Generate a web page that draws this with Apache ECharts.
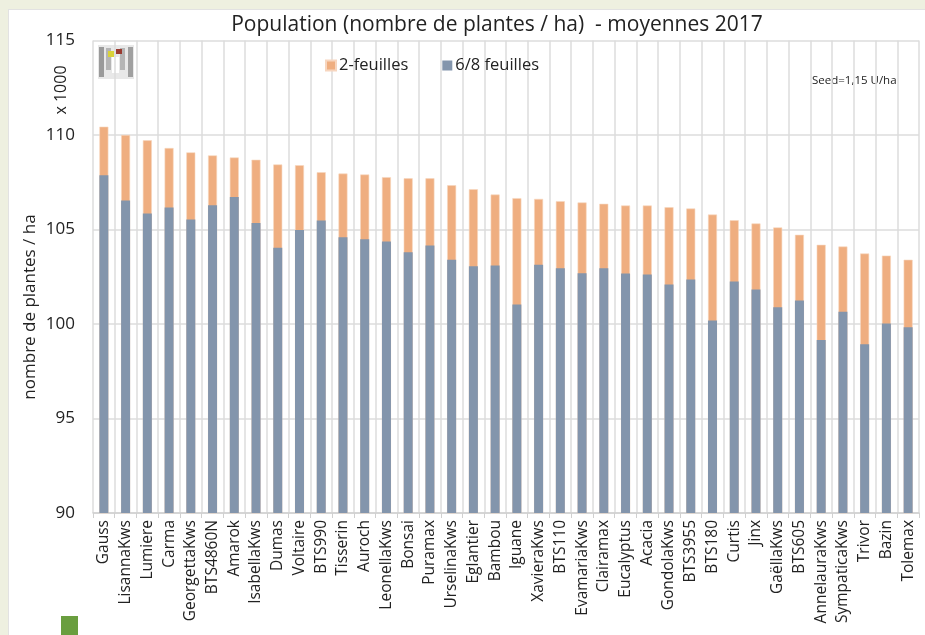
<!DOCTYPE html>
<html>
<head>
<meta charset="utf-8">
<script src="https://cdn.jsdelivr.net/npm/echarts@6/dist/echarts.min.js"></script>
<style>
html,body{margin:0;padding:0;background:#eef0e0;}
#frame{position:absolute;left:8px;top:9px;width:917px;height:626px;background:#fff;border-left:1px solid #e2e2e2;border-top:1px solid #e2e2e2;}
#c{position:absolute;left:0;top:0;width:925px;height:635px;}
</style>
</head>
<body>
<div id="frame"></div>
<div id="c"></div>
<script>
const categories = ["Gauss","LisannaKws","Lumiere","Carma","GeorgettaKws","BTS4860N","Amarok","IsabellaKws","Dumas","Voltaire","BTS990","Tisserin","Auroch","LeonellaKws","Bonsai","Puramax","UrselinaKws","Eglantier","Bambou","Iguane","XavieraKws","BTS110","EvamariaKws","Clairamax","Eucalyptus","Acacia","GondolaKws","BTS3955","BTS180","Curtis","Jinx","GaëllaKws","BTS605","AnnelauraKws","SympaticaKws","Trivor","Bazin","Tolemax"];
const feuilles2 = [110.44,110.0,109.72,109.31,109.08,108.92,108.81,108.69,108.44,108.40,108.03,107.96,107.91,107.77,107.71,107.71,107.34,107.13,106.85,106.66,106.62,106.50,106.43,106.36,106.27,106.27,106.18,106.11,105.79,105.49,105.32,105.11,104.72,104.19,104.10,103.73,103.62,103.40];
const feuilles68 = [107.87,106.53,105.85,106.17,105.53,106.28,106.72,105.35,104.04,104.98,105.48,104.59,104.48,104.36,103.79,104.15,103.40,103.05,103.10,101.03,103.13,102.95,102.69,102.95,102.67,102.62,102.09,102.35,100.19,102.25,101.83,100.89,101.24,99.16,100.65,98.93,100.03,99.83];
const yTicks = [90,95,100,105,110,115];

const FONT = "'Open Sans', 'Noto Sans', sans-serif";
const chart = echarts.init(document.getElementById('c'), null, {renderer:'canvas'});
chart.setOption({
  backgroundColor: 'transparent',
  animation: false,
  title: {
    text: 'Population (nombre de plantes / ha)  - moyennes 2017',
    left: 492, top: 10, textAlign: 'center',
    textStyle: {fontFamily: FONT, fontWeight: 'normal', fontSize: 21, color: '#222'}
  },
  legend: {
    data: ['2-feuilles','6/8 feuilles'],
    left: 320, top: 52,
    itemWidth: 10, itemHeight: 10, itemGap: 34,
    icon: 'rect',
    textStyle: {fontFamily: FONT, fontSize: 16.5, color: '#222', padding:[0,0,0,-2]}
  },
  grid: {left: 93, right: 6, top: 40.5, bottom: 122},
  xAxis: {
    type: 'category',
    data: categories,
    axisLine: {lineStyle: {color: '#d0d0d0', width: 1.5}},
    axisTick: {show: true, length: 5, alignWithLabel: false, lineStyle: {color: '#d0d0d0'}},
    splitLine: {show: true, lineStyle: {color: '#dcdcdc', width: 1.5}},
    axisLabel: {rotate: 90, interval: 0, margin: 7, fontFamily: FONT, fontSize: 15.5, color: '#222'}
  },
  yAxis: {
    type: 'value',
    min: yTicks[0], max: yTicks[yTicks.length-1], interval: 5,
    axisLine: {show: false},
    axisTick: {show: false},
    splitLine: {lineStyle: {color: '#dcdcdc', width: 1.5}},
    axisLabel: {margin: 18, fontFamily: FONT, fontSize: 17, color: '#222',
      formatter: v => yTicks.includes(v) ? String(v) : ''}
  },
  series: [
    {name: '2-feuilles', type: 'bar', data: feuilles2, barWidth: 9, barGap: '-100%',
     itemStyle: {color: '#efae80', borderColor: '#f7d6bf', borderWidth: 0.6}},
    {name: '6/8 feuilles', type: 'bar', data: feuilles68, barWidth: 9,
     itemStyle: {color: '#8395ac'}}
  ],
  graphic: [
    {type: 'text', left: 812, top: 75, style: {text: 'Seed=1,15 U/ha', font: "11.5px " + FONT, fill: '#222'}},
    {type: 'text', x: 61, y: 90, rotation: Math.PI/2, style: {text: 'x 1000', font: "16px " + FONT, fill: '#222', textAlign: 'center', textVerticalAlign: 'middle'}},
    {type: 'text', x: 30, y: 307, rotation: Math.PI/2, style: {text: 'nombre de plantes / ha', font: "17px " + FONT, fill: '#222', textAlign: 'center', textVerticalAlign: 'middle'}},
    {type: 'rect', shape: {x: 61, y: 616, width: 17, height: 19}, style: {fill: '#6a9e3f'}},
    {type: 'group', left: 98, top: 45, children: [
      {type:'rect', shape:{x:0,y:0,width:36,height:34}, style:{fill:'#e8e8e8'}},
      {type:'rect', shape:{x:1,y:2,width:5,height:30}, style:{fill:'#9a9a9a'}},
      {type:'rect', shape:{x:30,y:2,width:5,height:30}, style:{fill:'#a0a0a0'}},
      {type:'rect', shape:{x:8,y:3,width:5,height:22}, style:{fill:'#b5b5b5'}},
      {type:'rect', shape:{x:22,y:3,width:5,height:22}, style:{fill:'#b5b5b5'}},
      {type:'rect', shape:{x:10,y:6,width:6,height:6}, style:{fill:'#d9d23a'}},
      {type:'rect', shape:{x:18,y:4,width:6,height:5}, style:{fill:'#9a3a30'}},
      {type:'rect', shape:{x:14,y:12,width:7,height:16}, style:{fill:'#ffffff'}}
    ]}
  ]
});
</script>
</body>
</html>
